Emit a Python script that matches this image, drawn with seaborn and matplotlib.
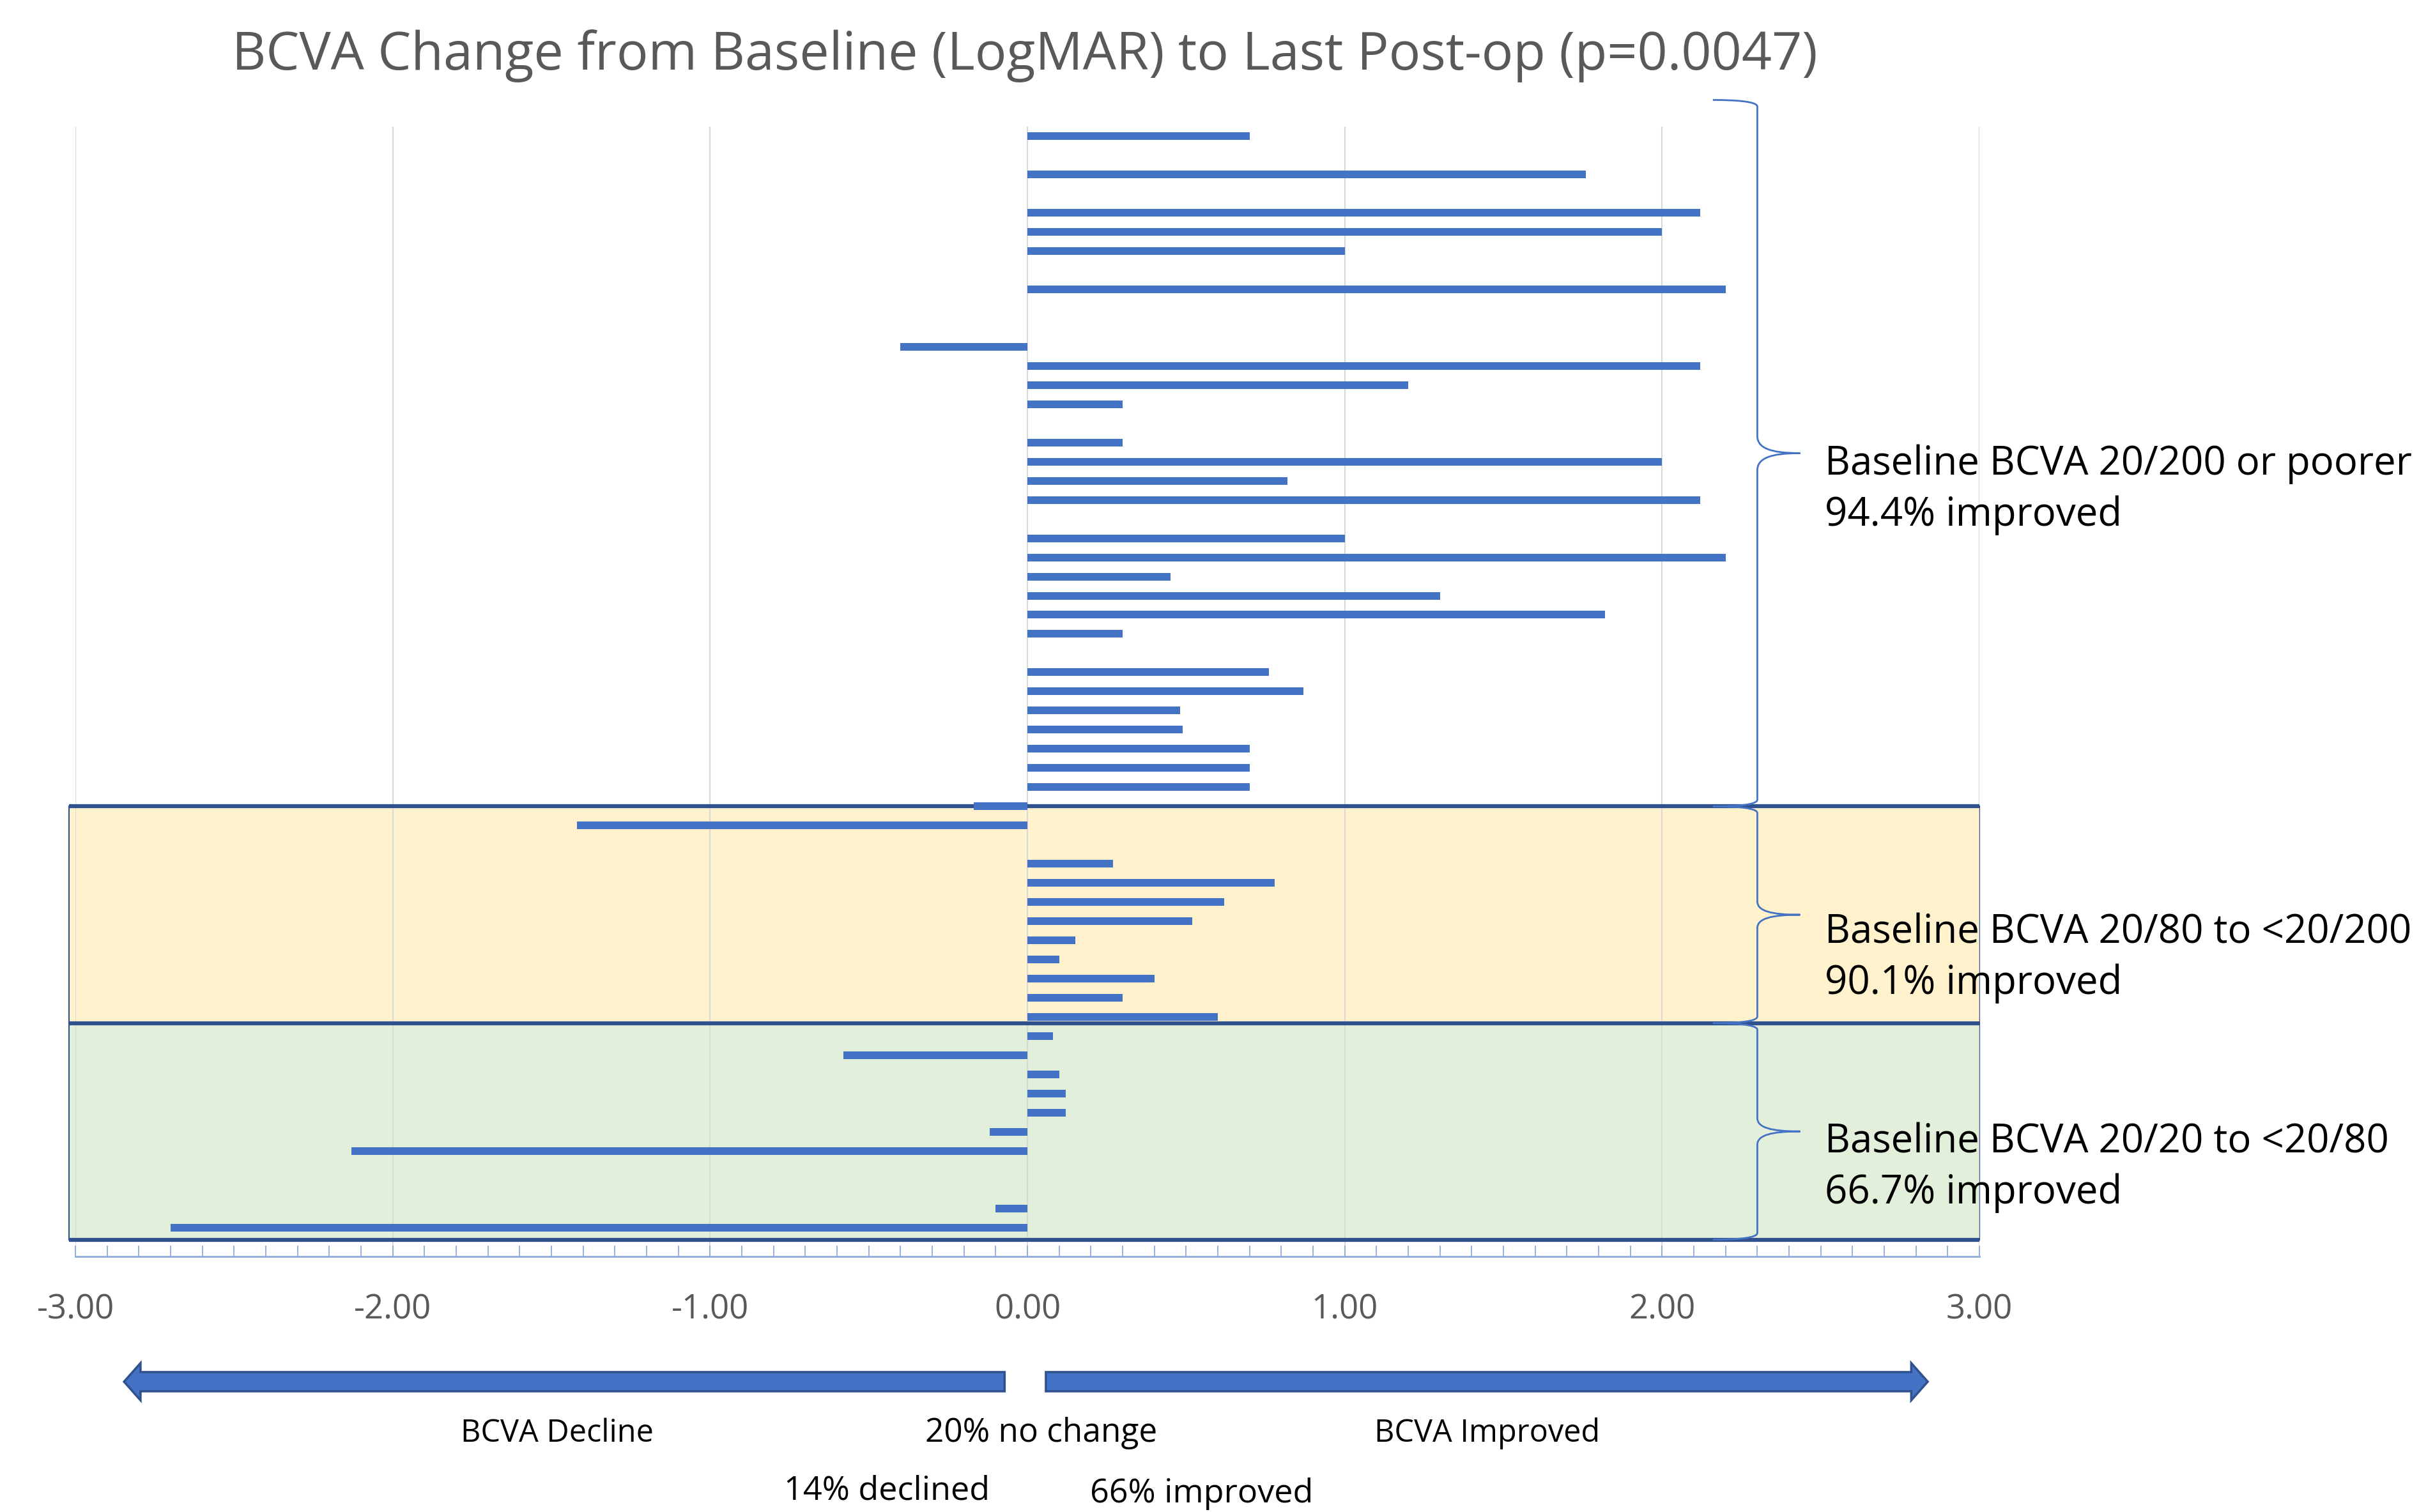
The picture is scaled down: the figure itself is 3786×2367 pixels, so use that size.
import numpy as np
import pandas as pd
import seaborn as sns
import matplotlib.pyplot as plt
from matplotlib.patches import Rectangle, Polygon, PathPatch
from matplotlib.path import Path
from matplotlib.ticker import MultipleLocator, FormatStrFormatter

# LogMAR change per eye, top to bottom (0 = no change)
poor_change = [0.70, 0, 1.76, 0, 2.12, 2.00, 1.00, 0, 2.20, 0, 0, -0.40,
               2.12, 1.20, 0.30, 0, 0.30, 2.00, 0.82, 2.12, 0, 1.00, 2.20,
               0.45, 1.30, 1.82, 0.30, 0, 0.76, 0.87, 0.48, 0.49, 0.70,
               0.70, 0.70]
mid_change = [-0.17, -1.42, 0, 0.27, 0.78, 0.62, 0.52, 0.15, 0.10, 0.40,
              0.30, 0.60]
good_change = [0.08, -0.58, 0.10, 0.12, 0.12, -0.12, -2.13, 0, 0, -0.10,
               -2.70]

group_names = ["Baseline BCVA 20/200 or poorer",
               "Baseline BCVA 20/80 to <20/200",
               "Baseline BCVA 20/20 to <20/80"]
group_improved = ["94.4% improved", "90.1% improved", "66.7% improved"]

title = "BCVA Change from Baseline (LogMAR) to Last Post-op (p=0.0047)"
xticks = [-3, -2, -1, 0, 1, 2, 3]

BLUE = "#4472C4"
DARK = "#2F528F"

changes = poor_change + mid_change + good_change
df = pd.DataFrame({"eye": np.arange(len(changes)), "change": changes})

sns.set_style("white")
plt.rcParams["font.family"] = ["Open Sans", "DejaVu Sans"]

fig = plt.figure(figsize=(37.86, 23.67), dpi=100)
ax = fig.add_axes([0.0312, 0.169, 0.7871, 0.7474])

# shaded group boxes (layout)
band_edges = [35, 46.32, 57.62]
for (y0, y1), col in zip([(band_edges[0], band_edges[1]), (band_edges[1], band_edges[2])],
                         ["#FFF2CC", "#E2EFDA"]):
    ax.add_patch(Rectangle((-3.02, y0), 6.02, y1 - y0, facecolor=col,
                           edgecolor=DARK, lw=1.5, zorder=0.2, clip_on=False))
ax.hlines(band_edges, -3.02, 3.0, color=DARK, lw=4.5, zorder=1.5, clip_on=False)

sns.barplot(data=df, x="change", y="eye", orient="h", native_scale=True,
            width=0.4, color=BLUE, saturation=1, linewidth=0,
            errorbar=None, zorder=3, ax=ax)

ax.set_xlim(-3, 3)
ax.set_ylim(58.5, -0.5)
ax.set_yticks([])
ax.set_xlabel("")
ax.set_ylabel("")
ax.set_xticks(xticks)
ax.xaxis.set_major_formatter(FormatStrFormatter("%.2f"))
ax.xaxis.set_minor_locator(MultipleLocator(0.1))
ax.tick_params(axis="x", which="both", direction="in", length=12, width=1.3,
               color="#8FAADC", bottom=True)
ax.tick_params(axis="x", which="major", labelsize=38, labelcolor="#595959", pad=41)
ax.set_axisbelow(True)
ax.grid(axis="x", color="#D9D9D9", lw=1.5)
ax.grid(axis="y", visible=False)
for s in ["top", "left", "right"]:
    ax.spines[s].set_visible(False)
ax.spines["bottom"].set_color("#8FAADC")
ax.spines["bottom"].set_linewidth(2)


def brace(y0, y1, xe=2.16, xv=2.30, xt=2.435, de=0.35, dt=0.7):
    ym = (y0 + y1) / 2
    verts = [(xe, y0), ((xe + xv) / 2, y0), (xv, y0 + de * 0.2), (xv, y0 + de),
             (xv, ym - dt), (xv, ym - dt * 0.3), (xv + (xt - xv) * 0.3, ym), (xt, ym),
             (xv + (xt - xv) * 0.3, ym), (xv, ym + dt * 0.3), (xv, ym + dt),
             (xv, y1 - de), (xv, y1 - de * 0.2), ((xe + xv) / 2, y1), (xe, y1)]
    codes = [Path.MOVETO, Path.CURVE4, Path.CURVE4, Path.CURVE4,
             Path.LINETO, Path.CURVE4, Path.CURVE4, Path.CURVE4,
             Path.CURVE4, Path.CURVE4, Path.CURVE4,
             Path.LINETO, Path.CURVE4, Path.CURVE4, Path.CURVE4]
    ax.add_patch(PathPatch(Path(verts, codes), fill=False, edgecolor=BLUE,
                           lw=2, zorder=4, clip_on=False))


brace(-1.88, band_edges[0], dt=0.9)
brace(band_edges[0], band_edges[1])
brace(band_edges[1], band_edges[2])

label_y = [(17.15, 19.8), (41.6, 44.25), (52.55, 55.2)]
for name, imp, (ya, yb) in zip(group_names, group_improved, label_y):
    ax.text(2.513, ya, name, fontsize=44.5, color="black", va="center",
            ha="left", clip_on=False)
    ax.text(2.513, yb, imp, fontsize=44.5, color="black", va="center",
            ha="left", clip_on=False)

# direction arrows below the axis
tr = ax.get_xaxis_transform()
c, hb, hh, hl = -0.1108, 0.0085, 0.0165, 0.052
for tip, tail in [(-2.847, -0.072), (2.837, 0.058)]:
    s = np.sign(tail - tip)
    base = tip + s * hl
    pts = [(tip, c), (base, c + hh), (base, c + hb), (tail, c + hb),
           (tail, c - hb), (base, c - hb), (base, c - hh)]
    ax.add_patch(Polygon(pts, closed=True, facecolor=BLUE, edgecolor=DARK,
                         lw=2.5, transform=tr, clip_on=False))

bottom_texts = [("BCVA Decline", -1.483, -0.1565, 35),
                ("20% no change", 0.044, -0.1565, 37),
                ("BCVA Improved", 1.449, -0.1565, 35),
                ("14% declined", -0.443, -0.2072, 37.5),
                ("66% improved", 0.549, -0.2100, 37.5)]
for txt, x, y, fs in bottom_texts:
    ax.text(x, y, txt, transform=tr, fontsize=fs, color="black",
            ha="center", va="center", clip_on=False)

fig.text(0.4237, 0.963, title, fontsize=59.5, color="#595959",
         ha="center", va="center")

fig.savefig("out.png", dpi=100)
